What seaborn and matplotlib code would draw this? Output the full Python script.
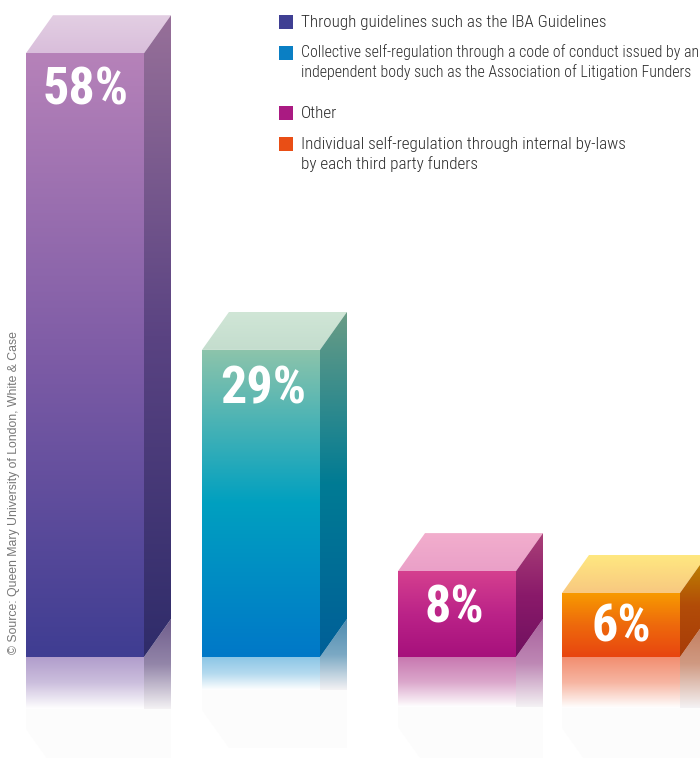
import numpy as np
import pandas as pd
import seaborn as sns
import matplotlib.pyplot as plt
from matplotlib.colors import LinearSegmentedColormap, to_rgb
from matplotlib.patches import Polygon, Rectangle

categories = ["Through guidelines", "Collective self-regulation", "Other", "Individual self-regulation"]
labels = [58, 29, 8, 6]
# bar heights as drawn, they are not quite to scale with the printed labels
heights = [58.0, 29.5, 8.25, 6.15]

legend_text = [
    "Through guidelines such as the IBA Guidelines",
    "Collective self-regulation through a code of conduct issued by an\nindependent body such as the Association of Litigation Funders",
    "Other",
    "Individual self-regulation through internal by-laws\nby each third party funders",
]
source_text = "© Source: Queen Mary University of London, White & Case"

swatches = ["#3f3f93", "#0a7fc4", "#aa1a82", "#e94e15"]
front_cols = [
    ["#b682b9", "#7e5ca6", "#3f3d92"],
    ["#8dc4ab", "#00a0c0", "#0078c8"],
    ["#d5408f", "#bb2388", "#a6107c"],
    ["#f89c00", "#ee6a0c", "#e84510"],
]
top_cols = [
    ["#e3cfe3", "#d9bedb"],
    ["#d0e6d6", "#c4ddce"],
    ["#f2aecd", "#eaa0c8"],
    ["#ffe880", "#f8c880"],
]
side_cols = [
    ["#977099", "#5a4382", "#2f2c6a"],
    ["#6a9c85", "#007b94", "#005f98"],
    ["#aa4078", "#8a1a6a", "#70105f"],
    ["#c08c00", "#b24c08", "#a83c08"],
]
reflect_cols = ["#b09ccb", "#8cc6e6", "#c878b0", "#f28e70"]
reflect_side = ["#6f5d8c", "#4f8cb0", "#a8609c", "#c07858"]

# layout in pixels
PX_PER_UNIT = 10.41
BASE_Y = 657
W, H = 700, 758
CENTERS = [85, 261, 457, 621]
BAR_W = 118
DX, DY = 27, 38
REFLECT_LEN = [52, 33, 50, 51]
SWATCH_Y = [15, 46, 106, 137]
LEGEND_Y = [15, 44, 106, 136]
LEGEND_SIZE = [12.25, 11.4, 12.3, 12.3]
LABEL_DX = [1, 2, -3, 0]
LABEL_DY = [37, 40, 37, 35]

sns.set_theme(style="white")
plt.rcParams["font.family"] = ["Roboto Condensed", "Liberation Sans", "DejaVu Sans"]

df = pd.DataFrame({"center": CENTERS, "height": heights, "category": categories})

fig = plt.figure(figsize=(W / 100, H / 100), dpi=100)
ax = fig.add_axes([0, 0, 1, 1])
sns.barplot(data=df, x="center", y="height", hue="category", palette=swatches, saturation=1,
            native_scale=True, width=BAR_W / 164, dodge=False, legend=False, ax=ax)
xlim = (0, W)
ylim = (-(H - BASE_Y) / PX_PER_UNIT, BASE_Y / PX_PER_UNIT)
ax.axis("off")


def fade(col, amount):
    # mix a colour towards white
    return tuple(c + (1 - c) * amount for c in to_rgb(col))


def ramp(poly, colors, top, bottom, z=3):
    # vertical gradient clipped to a polygon, top/bottom in data units
    pts = np.array(poly)
    patch = Polygon(pts, closed=True, facecolor="none", edgecolor="none", zorder=z)
    ax.add_patch(patch)
    cmap = LinearSegmentedColormap.from_list("g", colors)
    grad = np.linspace(0, 1, 256).reshape(-1, 1)
    im = ax.imshow(grad, cmap=cmap, aspect="auto", origin="upper", zorder=z,
                   extent=(pts[:, 0].min(), pts[:, 0].max(), bottom, top))
    im.set_clip_path(patch)


dy = DY / PX_PER_UNIT
for i, bar in enumerate(ax.patches):
    x0 = bar.get_x()
    x1 = x0 + bar.get_width()
    h = bar.get_height()
    bar.set_edgecolor("none")

    # front, top and side faces
    ramp([(x0, 0), (x1, 0), (x1, h), (x0, h)], front_cols[i], h, 0)
    ramp([(x0, h), (x1, h), (x1 + DX, h + dy), (x0 + DX, h + dy)], top_cols[i], h + dy, h)
    ramp([(x1, 0), (x1 + DX, dy), (x1 + DX, h + dy), (x1, h)], side_cols[i], h + dy, 0)

    # reflection under the baseline
    rl = REFLECT_LEN[i] / PX_PER_UNIT
    ramp([(x0, 0), (x1, 0), (x1, -rl), (x0, -rl)],
         [reflect_cols[i], fade(reflect_cols[i], 0.35), "#ffffff"], 0, -rl, z=2)
    ramp([(x1, 0), (x1 + DX, dy), (x1 + DX, -rl), (x1, -rl)],
         [reflect_side[i], fade(reflect_side[i], 0.25), "#f4f2f4"], dy, -rl, z=2)

    # very pale second reflection
    low = -rl - 58 / PX_PER_UNIT
    ax.add_patch(Polygon([(x0, -rl), (x1 + DX, -rl), (x1 + DX, low), (x0 + DX, low),
                          (x0, low + dy)],
                         closed=True, facecolor="#fcfcfc", edgecolor="none", zorder=1))

    ax.text(x0 + BAR_W / 2 + LABEL_DX[i], h - LABEL_DY[i] / PX_PER_UNIT, f"{labels[i]}%", color="white",
            fontsize=37.5, fontweight="bold", ha="center", va="center", zorder=5)

ax.set_xlim(xlim)
ax.set_ylim(ylim)

# legend and source note sit in a pixel overlay
ov = fig.add_axes([0, 0, 1, 1], facecolor="none")
ov.set_xlim(0, W)
ov.set_ylim(H, 0)
ov.axis("off")
for col, txt, sy, ty, size in zip(swatches, legend_text, SWATCH_Y, LEGEND_Y, LEGEND_SIZE):
    ov.add_patch(Rectangle((279, sy), 14, 14, facecolor=col, edgecolor="none"))
    ov.text(301, ty, txt, fontsize=size, fontweight=300, color="#2b2b2b", va="top", ha="left",
            linespacing=1.32)

ov.text(14, 654, source_text, rotation=90, fontsize=8.8, color="#777777", ha="center", va="bottom",
        family=["Liberation Sans", "DejaVu Sans"])

fig.savefig("out.png", dpi=100, facecolor="white")
